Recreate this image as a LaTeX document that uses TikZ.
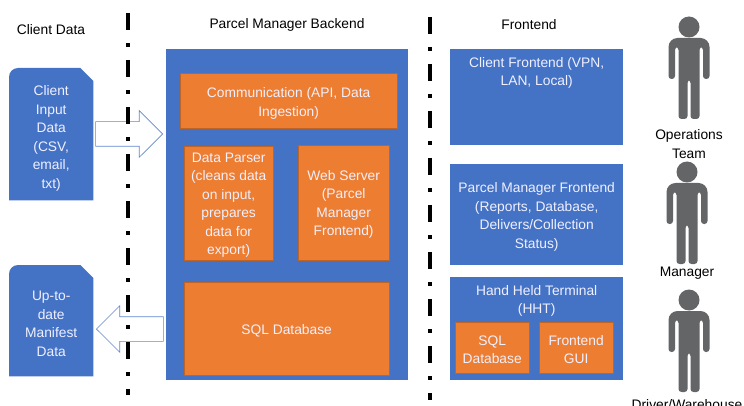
\documentclass[tikz,border=0pt]{standalone}
\usepackage{fontspec}
\setmainfont{Liberation Sans}
\usetikzlibrary{shapes.arrows, calc}
\definecolor{panelblue}{HTML}{4472C4}
\definecolor{partorange}{HTML}{ED7D31}
\definecolor{persongray}{HTML}{636567}
\tikzset{
  labeltext/.style={font=\fontsize{13.8}{18.5}\selectfont, align=center, inner sep=0pt},
  panel/.style={rectangle, fill=panelblue, anchor=north west, inner sep=0pt},
  part/.style={rectangle, fill=partorange, draw=partorange!80!black, line width=0.3pt, anchor=north west, inner sep=0pt},
  blocktext/.style={labeltext, text=white!94!blue, yshift=-2pt},
  sheet/.style={rectangle, anchor=north west, inner sep=0pt},
  flow/.style={single arrow, draw=panelblue!85!white, fill=white, line width=0.6pt, inner xsep=0pt, inner ysep=12pt,
    minimum width=46pt, minimum height=67pt, single arrow head extend=11pt, single arrow tip angle=90, anchor=tip},
  divider/.style={line width=3.6pt, dash pattern=on 17pt off 13pt on 4pt off 13pt},
  pics/person/.style={code={
    \fill[persongray] (0,0) circle (10.5);
    \fill[persongray, rounded corners=3pt] (-20.5,52) [rounded corners=9pt] -- (-20.5,11) -- (20.5,11) [rounded corners=3pt] -- (20.5,52)
      -- (14,52) -- (14,20) -- (10.5,20) -- (10.5,92) -- (1.5,92) -- (1.5,53) -- (-1.5,53) -- (-1.5,92) -- (-10.5,92) -- (-10.5,20)
      -- (-14,20) -- (-14,52) -- cycle;
  }}
}
% sheet with cut corner behind a node
\newcommand{\sheetshape}[1]{
  \fill[panelblue] (#1.south west) [rounded corners=9pt] -- (#1.north west) [sharp corners] -- ($(#1.north east)+(-13,0)$)
    -- ($(#1.north east)+(0,13)$) -- (#1.south east) -- cycle;
}
\begin{document}
\begin{tikzpicture}[x=1pt, y=-1pt]
\useasboundingbox (0,0) rectangle (744,406);
\fill[white] (0,0) rectangle (744,406);
% headings
\node[labeltext] (clienthead) at (51,30) {Client Data};
\node[labeltext] (backendhead) at (287,25) {Parcel Manager Backend};
\node[labeltext] (fronthead) at (529,25) {Frontend};
% client side
\node[sheet, minimum width=84pt, minimum height=132pt] (clientinput) at (9,68) {};
\node[sheet, minimum width=84pt, minimum height=111pt] (manifest) at (9,265) {};
\sheetshape{clientinput}
\sheetshape{manifest}
\node[blocktext] (clientinputtext) at ($(clientinput.center)+(0,2)$) {Client\\Input\\Data\\(CSV,\\email,\\txt)};
\node[blocktext] (manifesttext) at ($(manifest.center)+(0,1)$) {Up-to-\\date\\Manifest\\Data};
% backend
\node[panel, minimum width=242pt, minimum height=331pt] (backend) at (166,49) {};
\node[part, minimum width=217pt, minimum height=55pt] (comm) at (180,73) {};
\node[part, minimum width=89pt, minimum height=114pt] (parser) at (184,146) {};
\node[part, minimum width=91pt, minimum height=115pt] (webserver) at (298,145) {};
\node[part, minimum width=205pt, minimum height=93pt] (sqlback) at (184,282) {};
\node[blocktext] (commtext) at ($(comm.center)+(0,1)$) {Communication (API, Data\\Ingestion)};
\node[blocktext] (parsertext) at (parser.center) {Data Parser\\(cleans data\\on input,\\prepares\\data for\\export)};
\node[blocktext] (webservertext) at (webserver.center) {Web Server\\(Parcel\\Manager\\Frontend)};
\node[blocktext] (sqlbacktext) at (sqlback.center) {SQL Database};
% flows
\node[flow] (inflow) at (163,134) {};
\node[flow, shape border rotate=180] (outflow) at (96,329) {};
% frontend
\node[panel, minimum width=173pt, minimum height=96pt] (clientfront) at (450,49) {};
\node[panel, minimum width=173pt, minimum height=101pt] (parcelfront) at (450,164) {};
\node[panel, minimum width=173pt, minimum height=103pt] (hht) at (450,277) {};
\node[blocktext, anchor=north] (clientfronttext) at ($(clientfront.north)+(0,6)$) {Client Frontend (VPN,\\LAN, Local)};
\node[blocktext] (parcelfronttext) at (parcelfront.center) {Parcel Manager Frontend\\(Reports, Database,\\Delivers/Collection\\Status)};
\node[blocktext, anchor=north] (hhttext) at ($(hht.north)+(0,6)$) {Hand Held Terminal\\(HHT)};
\node[part, minimum width=74pt, minimum height=51pt] (sqlhht) at (455,322) {};
\node[part, minimum width=74pt, minimum height=51pt] (gui) at (539,322) {};
\node[blocktext] (sqlhhttext) at (sqlhht.center) {SQL\\Database};
\node[blocktext] (guitext) at (gui.center) {Frontend\\GUI};
% users
\pic at (689,27) {person};
\pic at (687,172) {person};
\pic at (689,300) {person};
\node[labeltext] (opslabel) at (689,144) {Operations\\Team};
\node[labeltext] (managerlabel) at (687,273) {Manager};
\node[labeltext] (driverlabel) at (687,405) {Driver/Warehouse};
% dividers
\draw[divider] (128,13) -- (128,395);
\draw[divider] (430,17) -- (430,400);
\end{tikzpicture}
\end{document}
